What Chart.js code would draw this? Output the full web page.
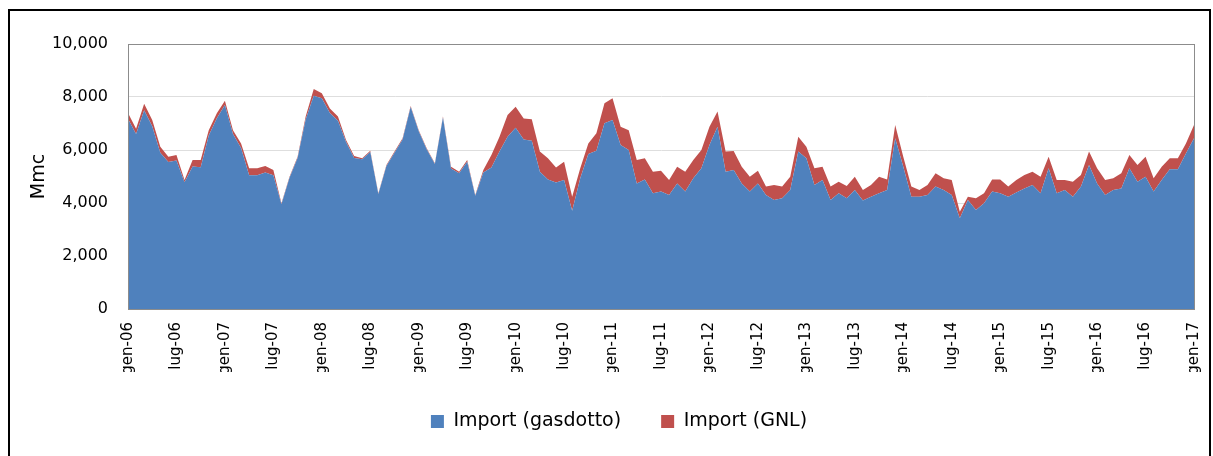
<!DOCTYPE html>
<html>
<head>
<meta charset="utf-8">
<script src="https://cdn.jsdelivr.net/npm/chart.js@4/dist/chart.umd.min.js"></script>
<style>
  html, body { margin: 0; padding: 0; background: #fff; }
  #wrap { position: relative; width: 1213px; height: 456px; overflow: hidden; }
  #c { position: absolute; left: 0; top: 0; }
  #frame { position: absolute; left: 8px; top: 9px; width: 1199px; height: 520px;
           border: 2px solid #000; pointer-events: none; }
</style>
</head>
<body>
<div id="wrap">
  <canvas id="c" width="1213" height="456"></canvas>
  <div id="frame"></div>
</div>
<script>
// Monthly imports, January 2006 - January 2017 (Mmc)
const mesi = ['gen','feb','mar','apr','mag','giu','lug','ago','set','ott','nov','dic'];
const anni = ['06','07','08','09','10','11','12','13','14','15','16','17'];
const nMesi = 133;

const gasdotto = [
  7180, 6600, 7500, 6900, 5900, 5550, 5600, 4780, 5380, 5350, 6550, 7200,
  7700, 6600, 6080, 5050, 5050, 5150, 5050, 3950, 4950, 5700, 7150, 8050,
  7950, 7400, 7100, 6300, 5700, 5650, 5920, 4340, 5400, 5900, 6400, 7620,
  6710, 6020, 5470, 7230, 5300, 5120, 5560, 4270, 5150, 5340, 5940, 6500,
  6840, 6400, 6350, 5180, 4890, 4770, 4870, 3710, 4930, 5850, 5970, 7010,
  7130, 6190, 6000, 4740, 4890, 4370, 4430, 4300, 4740, 4430, 4930, 5310,
  6190, 6880, 5180, 5245, 4740, 4430, 4740, 4300, 4110, 4180, 4490, 5940,
  5690, 4680, 4870, 4110, 4370, 4180, 4490, 4090, 4240, 4370, 4490, 6440,
  5370, 4240, 4240, 4300, 4620, 4490, 4300, 3420, 4110, 3740, 3990, 4430,
  4370, 4240, 4400, 4550, 4680, 4370, 5310, 4370, 4490, 4240, 4620, 5430,
  4740, 4300, 4490, 4550, 5310, 4800, 4990, 4430, 4870, 5270, 5270, 5870,
  6440
];

const gnl = [
  220, 200, 250, 230, 225, 200, 210,  90, 240, 270, 200, 185,
  160, 150, 170, 260, 260, 250, 195,  40,  40,  50, 110, 250,
  190, 170, 160,  80,  70,  40,  50,  30,  30,  40,  40,  40,
   40,  40,  30,  30,  70,  60,  60,  30,  95, 470, 560, 820,
  790, 790, 810, 760, 800, 570, 690, 530, 380, 400, 660, 750,
  820, 690, 750, 880, 800, 810, 785, 570, 630, 750, 690, 690,
  690, 570, 760, 715, 630, 560, 480, 320, 570, 440, 500, 560,
  435, 630, 500, 510, 430, 460, 500, 400, 440, 620, 400, 500,
  380, 380, 250, 380, 500, 440, 570, 250, 130, 440, 380, 460,
  520, 380, 470, 510, 500, 620, 440, 500, 380, 560, 440, 510,
  570, 570, 440, 570, 500, 630, 760, 500, 500, 420, 420, 380,
  500
];

const yTicks = [0, 2000, 4000, 6000, 8000, 10000];

// Category labels: "gen-06", "feb-06", ...
const categorie = [];
for (let i = 0; i < nMesi; i++) {
  categorie.push(mesi[i % 12] + '-' + anni[Math.floor(i / 12)]);
}

const FONT = "'DejaVu Sans', sans-serif";

// Grey frame around the plot area
const plotFrame = {
  id: 'plotFrame',
  afterDatasetsDraw(chart) {
    const a = chart.chartArea, ctx = chart.ctx;
    ctx.save();
    ctx.strokeStyle = '#8c8c8c';
    ctx.lineWidth = 1;
    ctx.strokeRect(Math.round(a.left) + 0.5, Math.round(a.top) + 0.5,
                   Math.round(a.right - a.left), Math.round(a.bottom - a.top));
    ctx.restore();
  }
};

new Chart(document.getElementById('c'), {
  type: 'line',
  data: {
    labels: categorie,
    datasets: [
      {
        label: 'Import (gasdotto)',
        data: gasdotto,
        backgroundColor: '#4F81BD',
        borderColor: 'rgba(0,0,0,0)',
        borderWidth: 0,
        pointRadius: 0,
        fill: 'origin',
        tension: 0
      },
      {
        label: 'Import (GNL)',
        data: gnl,
        backgroundColor: '#C0504D',
        borderColor: 'rgba(0,0,0,0)',
        borderWidth: 0,
        pointRadius: 0,
        fill: '-1',
        tension: 0
      }
    ]
  },
  options: {
    responsive: false,
    animation: false,
    devicePixelRatio: 1,
    layout: { padding: { left: 44, right: 19, top: 44, bottom: 15 } },
    plugins: {
      tooltip: { enabled: false },
      legend: {
        position: 'bottom',
        labels: {
          boxWidth: 13,
          boxHeight: 13,
          padding: 40,
          color: '#000',
          font: { family: FONT, size: 19 }
        }
      }
    },
    scales: {
      x: {
        stacked: true,
        offset: false,
        grid: { display: false },
        border: { color: '#8c8c8c' },
        ticks: {
          autoSkip: false,
          maxRotation: 90,
          minRotation: 90,
          padding: 5,
          color: '#000',
          font: { family: FONT, size: 15 },
          callback: function (v, i) { return i % 6 === 0 ? categorie[i] : null; }
        },
        afterFit(scale) {
          scale.height = 63;
          scale.paddingLeft = 0;
          scale.paddingRight = 0;
        }
      },
      y: {
        stacked: true,
        min: yTicks[0],
        max: yTicks[yTicks.length - 1],
        afterBuildTicks(scale) { scale.ticks = yTicks.map(v => ({ value: v })); },
        grid: { color: '#dedede', drawTicks: false },
        border: { color: '#8c8c8c' },
        title: {
          display: true,
          text: 'Mmc',
          color: '#000',
          font: { family: FONT, size: 19 },
          padding: { top: -16, bottom: 0 }
        },
        ticks: {
          padding: 20,
          color: '#000',
          font: { family: FONT, size: 16 },
          callback: v => v.toLocaleString('en-US')
        },
        afterFit(scale) { scale.width = 84; }
      }
    }
  },
  plugins: [plotFrame]
});
</script>
</body>
</html>
